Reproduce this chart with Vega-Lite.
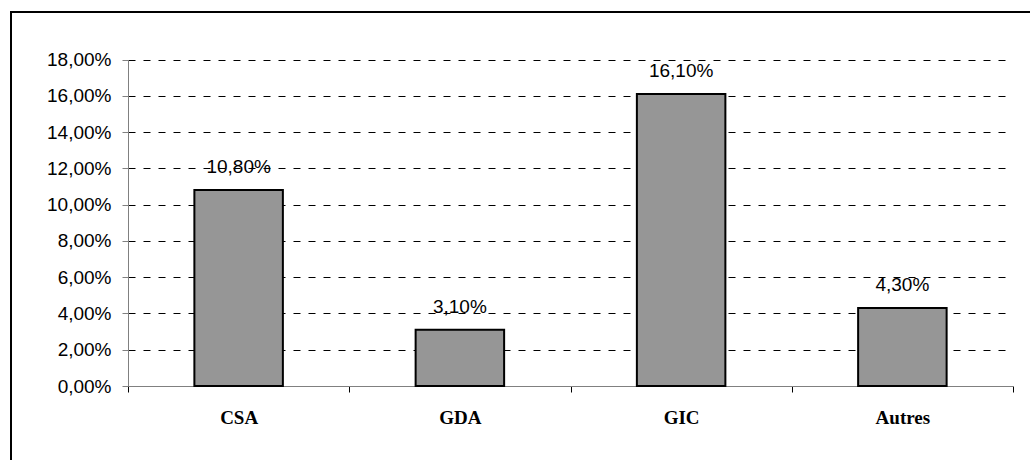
{
  "$schema": "https://vega.github.io/schema/vega-lite/v6.json",
  "autosize": {"type": "none"},
  "padding": {"left": 11, "top": 12, "right": 0, "bottom": 0},
  "width": 1019,
  "height": 448,
  "background": "white",
  "view": {"stroke": "#000000", "strokeWidth": 2, "strokeDash": [1019, 1467, 1000], "strokeCap": "butt"},
  "config": {
    "locale": {"number": {"decimal": ",", "thousands": " ", "grouping": [3], "currency": ["", " €"]}}
  },
  "data": {
    "values": [
      {"cat": "CSA", "v": 0.108},
      {"cat": "GDA", "v": 0.031},
      {"cat": "GIC", "v": 0.161},
      {"cat": "Autres", "v": 0.043}
    ]
  },
  "encoding": {
    "x": {
      "field": "cat",
      "type": "nominal",
      "sort": null,
      "title": null,
      "scale": {"range": [117, 1002], "paddingInner": 0, "paddingOuter": 0},
      "axis": {
        "offset": -74,
        "domainColor": "#808080",
        "domainWidth": 1,
        "tickBand": "extent",
        "tickColor": "#000000",
        "tickSize": 6,
        "labelAngle": 0,
        "labelFont": "Liberation Serif",
        "labelFontWeight": "bold",
        "labelFontSize": 19,
        "labelColor": "#000000",
        "labelBaseline": "alphabetic",
        "labelPadding": 31,
        "grid": false
      }
    },
    "y": {
      "field": "v",
      "type": "quantitative",
      "title": null,
      "scale": {"domain": [0, 0.18], "nice": false, "zero": true, "range": [374, 47.5]},
      "axis": {
        "offset": -117,
        "values": [0, 0.02, 0.04, 0.06, 0.08, 0.1, 0.12, 0.14, 0.16, 0.18],
        "format": ".2%",
        "domainColor": "#808080",
        "domainWidth": 1,
        "tickColor": "#808080",
        "tickSize": 6,
        "labelFont": "Liberation Sans",
        "labelFontSize": 19,
        "labelColor": "#000000",
        "labelPadding": 11,
        "grid": true,
        "gridColor": "#000000",
        "gridWidth": 1,
        "gridDash": [7, 8]
      }
    }
  },
  "layer": [
    {
      "mark": {"type": "bar", "width": {"band": 0.4}, "fill": "#969696", "stroke": "#000000", "strokeWidth": 2}
    },
    {
      "mark": {"type": "text", "baseline": "alphabetic", "dy": -17, "font": "Liberation Sans", "fontSize": 19, "color": "#000000"},
      "encoding": {
        "text": {"field": "v", "type": "quantitative", "format": ".2%"}
      }
    }
  ]
}
